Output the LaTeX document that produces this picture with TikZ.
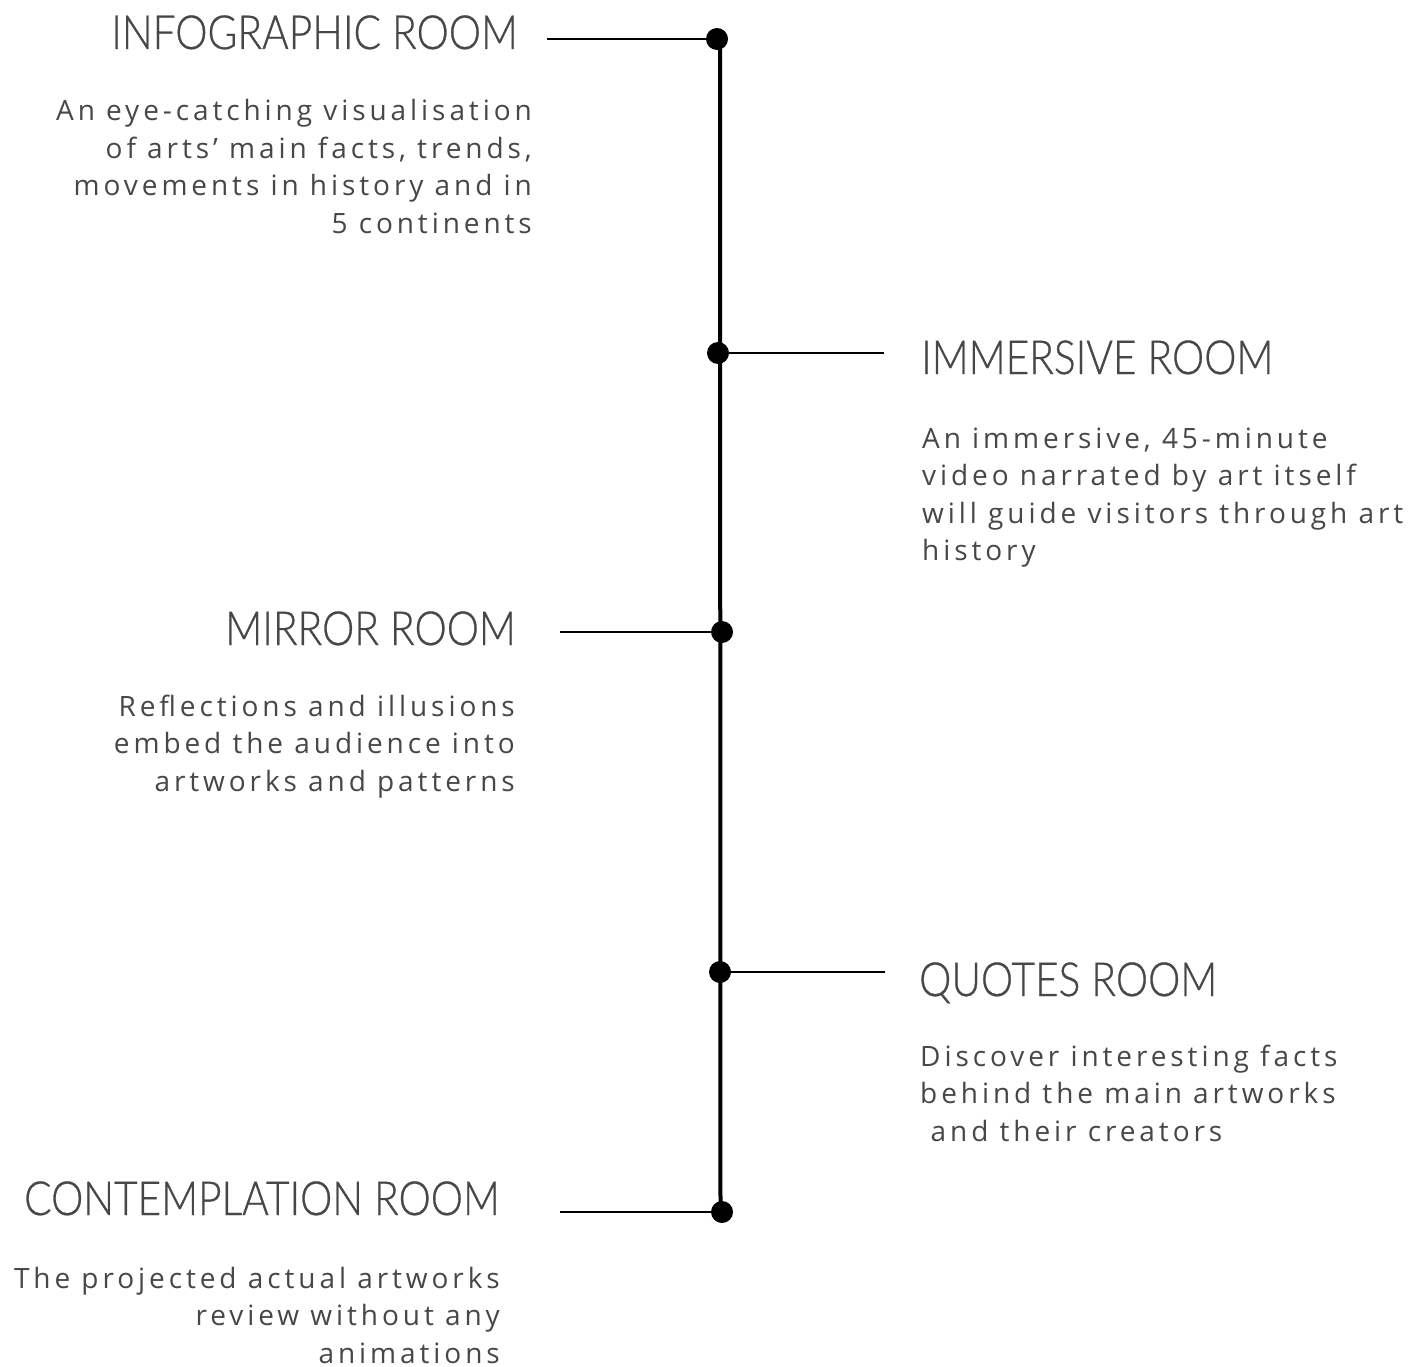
\documentclass[tikz,border=0pt]{standalone}
\usepackage{fontspec}
\setmainfont{Open Sans}
\newfontfamily\bodyfont[LetterSpace=14]{Open Sans}
\newfontfamily\titlefont[FakeStretch=0.865,FakeBold=0.6]{Lato Light}
\definecolor{txt}{HTML}{474747}
\tikzset{
  roomtitle/.style={inner sep=0pt, text=txt, font=\titlefont\fontsize{47}{54}\selectfont},
  roombody/.style={inner sep=0pt, text=txt, font=\bodyfont\fontsize{28}{37.5}\selectfont},
  roomdot/.style={circle, fill=black, inner sep=0pt, minimum size=22pt},
  spineline/.style={line width=4pt, black},
  tickline/.style={line width=2pt, black}
}
\begin{document}
\begin{tikzpicture}[x=1pt,y=-1pt]
\useasboundingbox (0,0) rectangle (1428,1367);
% spine
\coordinate (top) at (720,39);
\coordinate (bot) at (720.5,1212);
\draw[spineline] (top) -- (bot);
% tick ends
\coordinate (e1) at (547,39);
\coordinate (e2) at (884,353);
\coordinate (e3) at (560,632);
\coordinate (e4) at (885,972);
\coordinate (e5) at (560,1212);
% dots (positions)
\coordinate (p1) at (717,39);
\coordinate (p2) at (718,353);
\coordinate (p3) at (722,632);
\coordinate (p4) at (720,972);
\coordinate (p5) at (722,1212);
\draw[tickline] (e1) -- (p1);
\draw[tickline] (p2) -- (e2);
\draw[tickline] (e3) -- (p3);
\draw[tickline] (p4) -- (e4);
\draw[tickline] (e5) -- (p5);
\node[roomdot] (d1) at (p1) {};
\node[roomdot] (d2) at (p2) {};
\node[roomdot] (d3) at (p3) {};
\node[roomdot] (d4) at (p4) {};
\node[roomdot] (d5) at (p5) {};
% titles
\node[roomtitle, anchor=base east] (t1) at (518,49) {INFOGRAPHIC ROOM};
\node[roomtitle, anchor=base west] (t2) at (921,374) {IMMERSIVE ROOM};
\node[roomtitle, anchor=base east] (t3) at (516,645) {MIRROR ROOM};
\node[roomtitle, anchor=base west] (t4) at (919,996) {QUOTES ROOM};
\node[roomtitle, anchor=base east] (t5) at (500,1215) {CONTEMPLATION ROOM};
% bodies
\node[roombody, anchor=base east] (b1) at (532,121) {\parbox[t]{600pt}{\raggedleft An eye-catching visualisation\\of arts’ main facts, trends,\\movements in history and in\\5 continents}};
\node[roombody, anchor=base west] (b2) at (922,448) {\parbox[t]{600pt}{\raggedright An immersive, 45-minute\\video narrated by art itself\\will guide visitors through art\\history}};
\node[roombody, anchor=base east] (b3) at (515,716) {\parbox[t]{600pt}{\raggedleft Reflections and illusions\\embed the audience into\\artworks and patterns}};
\node[roombody, anchor=base west] (b4) at (920,1066) {\parbox[t]{600pt}{\raggedright Discover interesting facts\\behind the main artworks\\\hspace*{10.5pt}and their creators}};
\node[roombody, anchor=base east] (b5) at (500,1288) {\parbox[t]{600pt}{\raggedleft The projected actual artworks\\review without any\\animations}};
\end{tikzpicture}
\end{document}
